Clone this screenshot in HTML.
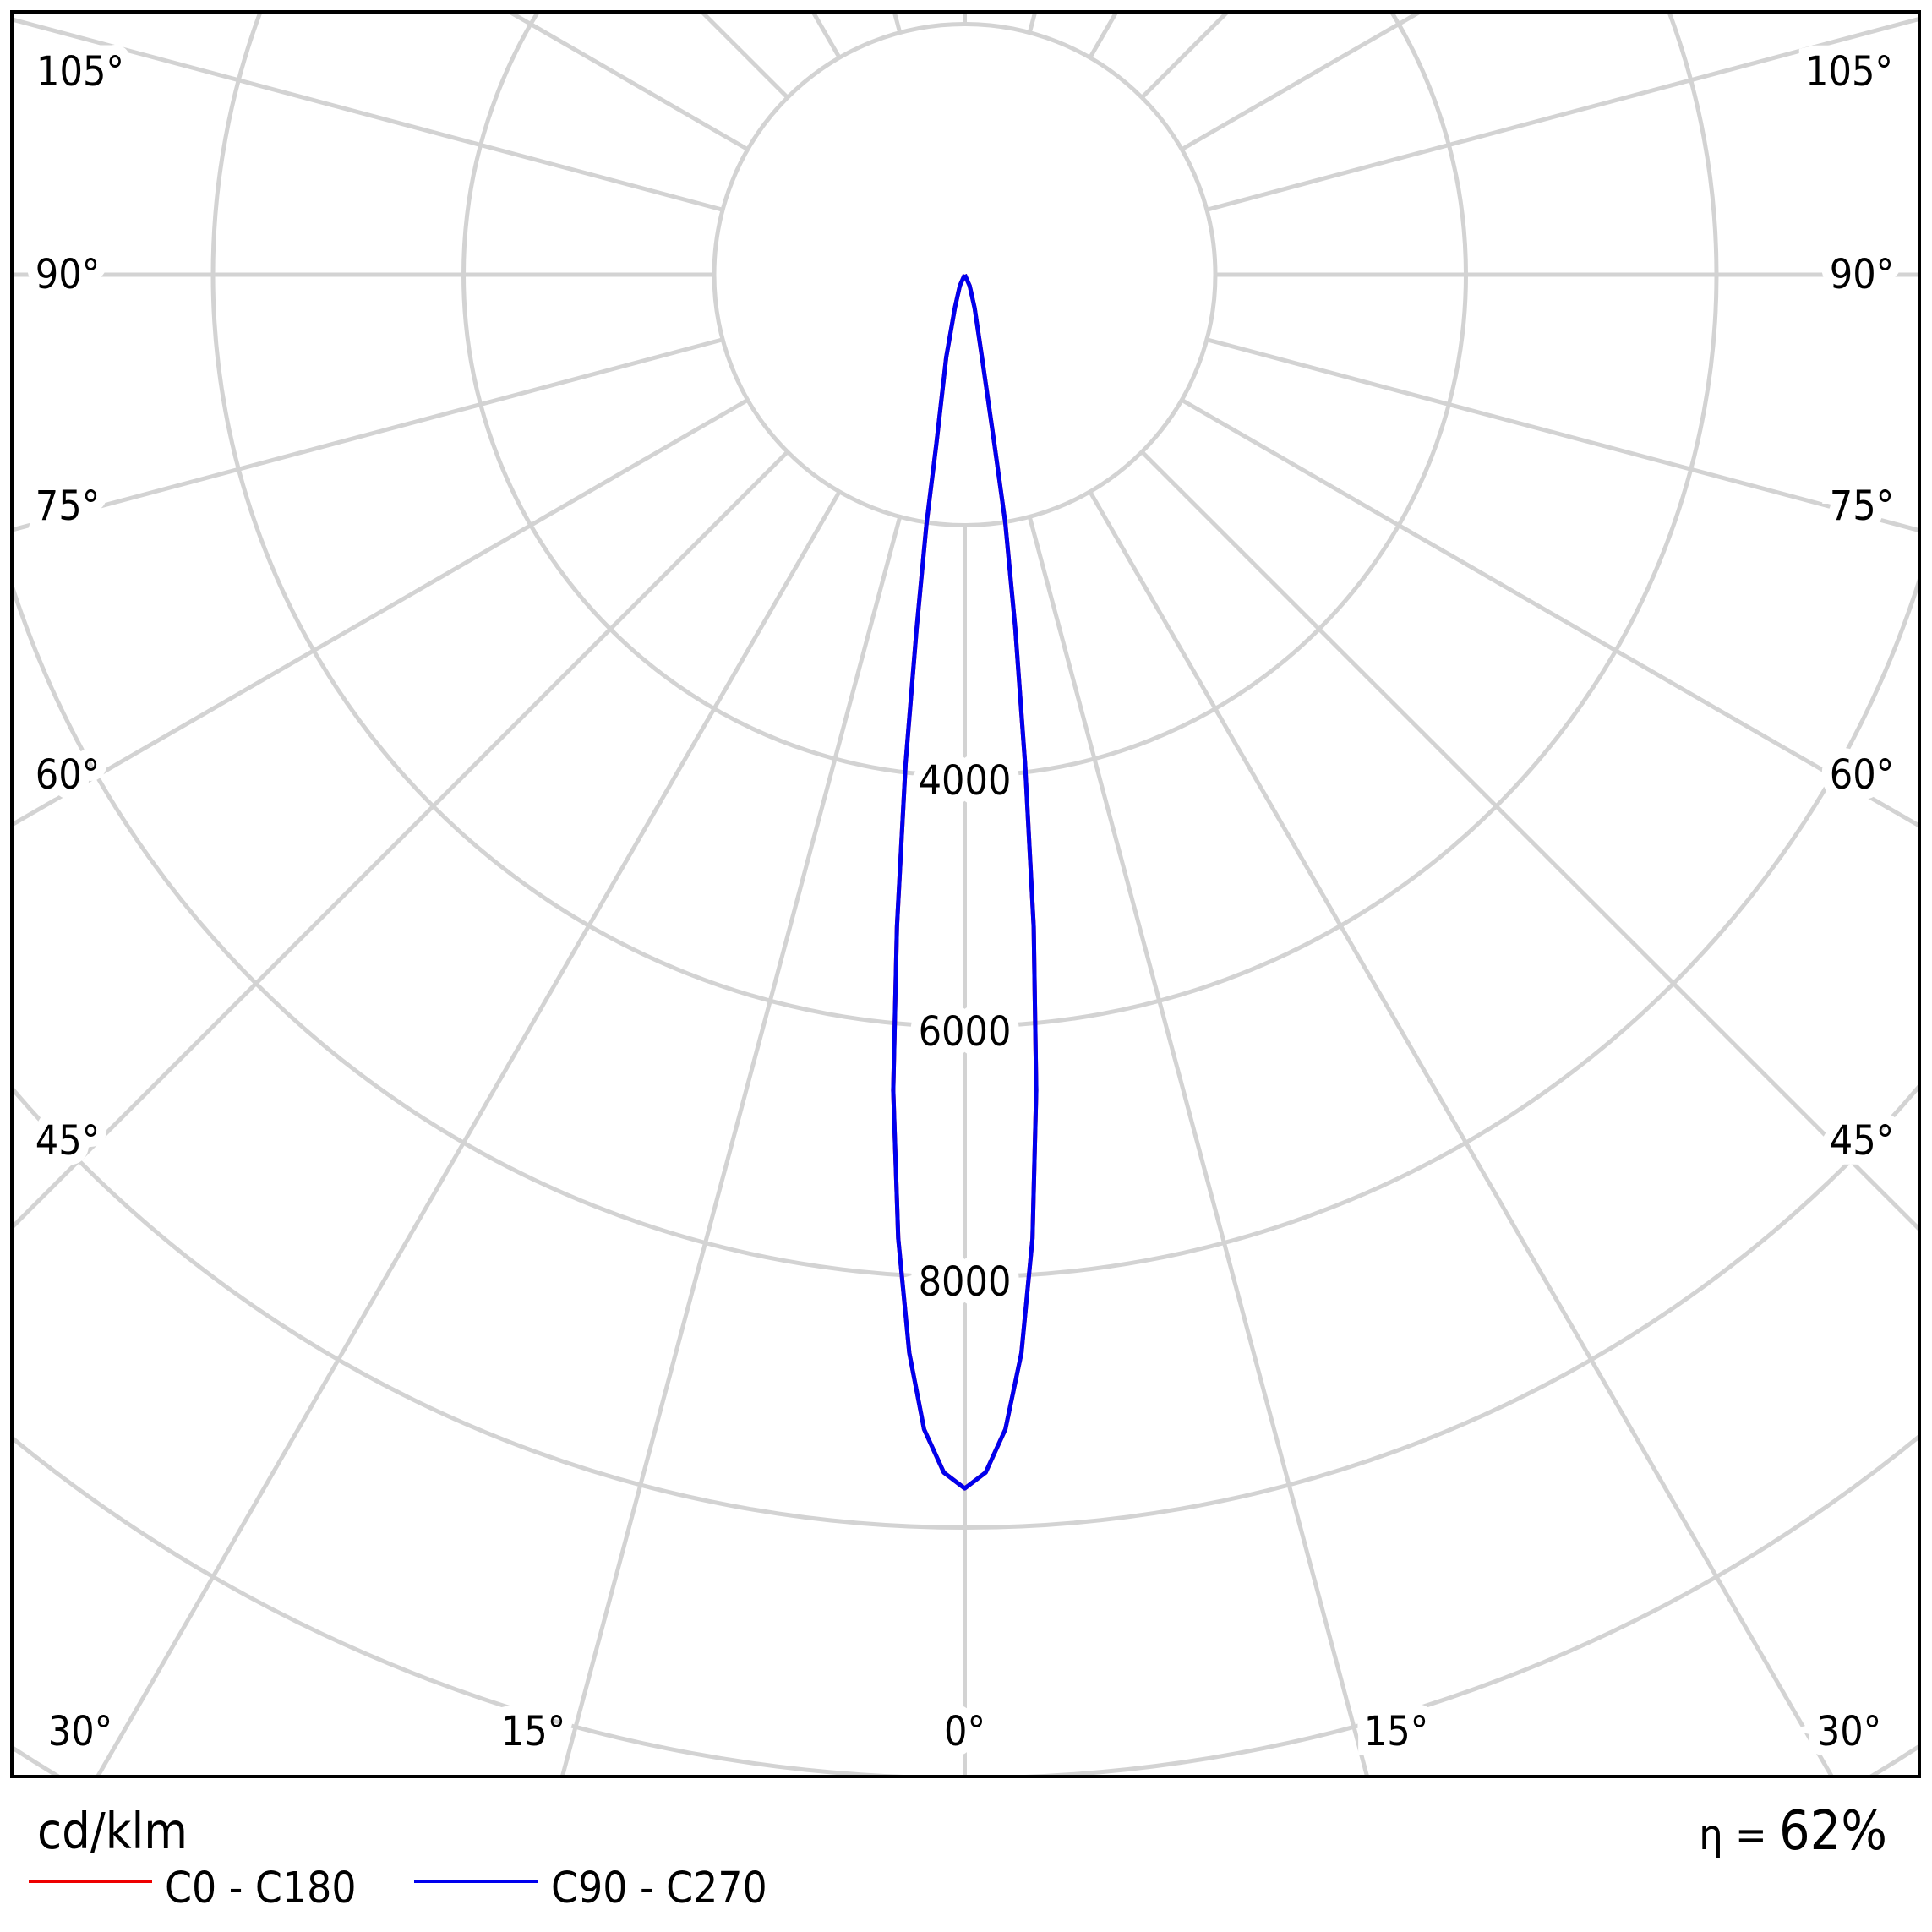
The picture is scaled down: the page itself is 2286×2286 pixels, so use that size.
<!DOCTYPE html>
<html><head><meta charset="utf-8">
<style>html,body{margin:0;padding:0;background:#fff;overflow:hidden;width:2286px;height:2286px}svg{display:block}</style>
</head><body>
<svg id="s" width="2286" height="2286" xmlns="http://www.w3.org/2000/svg" font-family="'DejaVu Sans Condensed','Liberation Sans',sans-serif">
<defs><clipPath id="c"><rect x="14" y="14" width="2257" height="2088"/></clipPath></defs>
<rect width="2286" height="2286" fill="#fff"/>
<g id="grid" clip-path="url(#c)" stroke="#d3d3d3" stroke-width="5" fill="none"></g>
<g id="lbl" font-size="48" fill="#000" stroke="#fff" stroke-width="24" paint-order="stroke" text-anchor="middle"></g>
<g id="curve" clip-path="url(#c)" fill="none" stroke-width="5" stroke-linejoin="round"></g>
<rect x="14" y="14" width="2257" height="2088" fill="none" stroke="#000" stroke-width="4"/>
<text x="44" y="2187" font-size="59">cd/klm</text>
<line x1="34" y1="2226" x2="180" y2="2226" stroke="#e00" stroke-width="4"/>
<text x="195" y="2251" font-size="51">C0 - C180</text>
<line x1="490" y1="2226" x2="637" y2="2226" stroke="#00e" stroke-width="4"/>
<text x="652" y="2251" font-size="51">C90 - C270</text>
<text x="2233" y="2188" font-size="64" text-anchor="end"><tspan font-size="50">η = </tspan>62%</text>
</svg>
<script>
var NS="http://www.w3.org/2000/svg",cx=1141.5,cy=325,st=296.5;
function el(p,t,a,txt){var e=document.createElementNS(NS,t);for(var k in a)e.setAttribute(k,a[k]);if(txt)e.textContent=txt;p.appendChild(e);return e;}
var g=document.getElementById('grid');
for(var k=1;k<=9;k++)el(g,'circle',{cx:cx,cy:cy,r:st*k});
for(var a=0;a<360;a+=15){var r=a*Math.PI/180;el(g,'line',{x1:cx+st*Math.sin(r),y1:cy+st*Math.cos(r),x2:cx+3000*Math.sin(r),y2:cy+3000*Math.cos(r)});}
var L=document.getElementById('lbl');
var labs=[["105°",95,101],["90°",80,341],["75°",80,615],["60°",80,933],["45°",80,1366],["30°",95,2065],["15°",631,2065]];
labs.forEach(function(l){el(L,'text',{x:l[1],y:l[2]},l[0]);el(L,'text',{x:2*cx-l[1],y:l[2]},l[0]);});
el(L,'text',{x:cx,y:2065},"0°");
[["4000",940],["6000",1237],["8000",1533]].forEach(function(l){el(L,'text',{x:cx,y:l[1]},l[0]);});
var left=[[766,1195],[750,1160],[738,1098],[729,1005],[725,885],[728,752],[735,620],[744,510],[752,425],[760,360],[768,290],[775,250],[779,232]];
var right=[[800,1195],[816,1160],[829,1098],[838,1005],[841,885],[839,752],[832,620],[824,510],[816,425],[807,360],[797,290],[791,250],[787,232]];
function tr(p){return ((p[0]-783)*1.458+cx).toFixed(1)+","+((p[1]-223)*1.458+cy).toFixed(1);}
var pts=[tr([783,223])];
for(var i=right.length-1;i>=0;i--)pts.push(tr(right[i]));
pts.push(tr([783,1208]));
for(var i=0;i<left.length;i++)pts.push(tr(left[i]));
pts.push(tr([783,223]));
var C=document.getElementById('curve');
var rp=pts.map(function(s){var q=s.split(',');var x=+q[0],y=+q[1];if(y>1800){x=cx+(x-cx)*1.03;}return x.toFixed(1)+","+(y+(y>1900?2:0)).toFixed(1);});
el(C,'polyline',{points:rp.join(' '),stroke:'#e00'});
el(C,'polyline',{points:pts.join(' '),stroke:'#00e'});
</script>
</body></html>
